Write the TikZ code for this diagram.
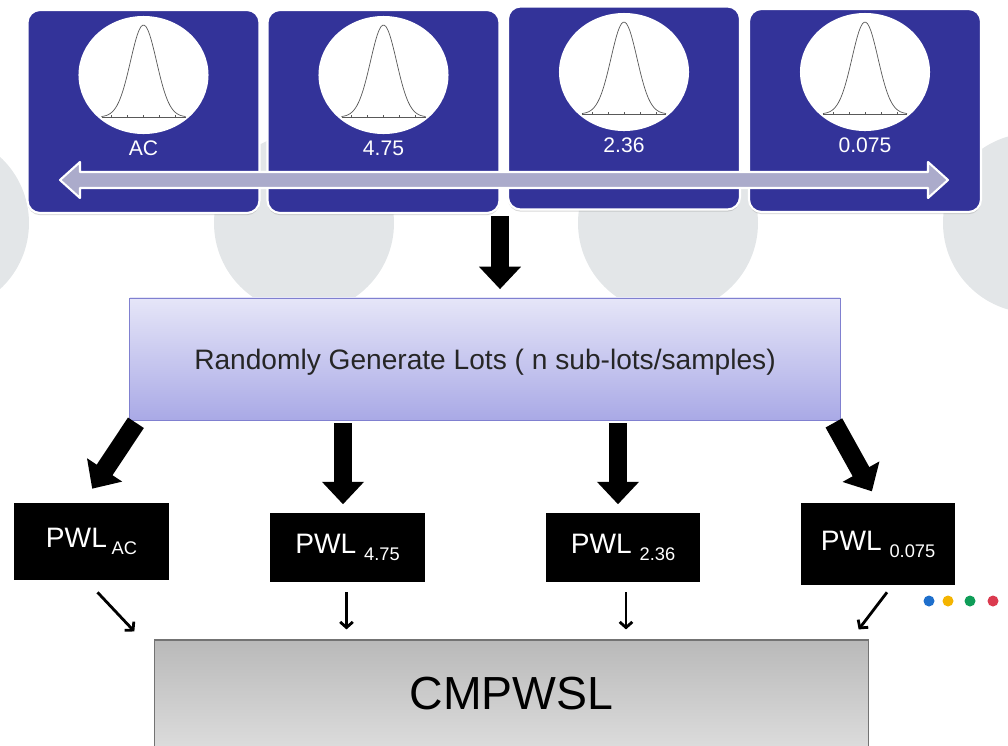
\documentclass[tikz,border=0pt]{standalone}
\usepackage{fontspec}
\setmainfont{Liberation Sans}
\usetikzlibrary{arrows.meta,calc,shapes.geometric,shadows}
\definecolor{lotblue}{HTML}{333399}
\definecolor{discgray}{HTML}{E3E6E8}
\definecolor{rangecol}{HTML}{ABABCB}
\definecolor{lotstop}{HTML}{E6E6F8}
\definecolor{lotsbot}{HTML}{A9A9E6}
\definecolor{lotsedge}{HTML}{8080D0}
\definecolor{cmptop}{HTML}{B9B9B9}
\definecolor{cmpbot}{HTML}{DCDCDC}
\definecolor{dotblue}{HTML}{1E6FCC}
\definecolor{dotyellow}{HTML}{F4B400}
\definecolor{dotgreen}{HTML}{0F9D58}
\definecolor{dotred}{HTML}{DB3A4F}
\colorlet{bellcol}{black!65}
\tikzstyle{lotbox}=[draw=white,line width=1.5pt,fill=lotblue,rounded corners=9pt,
  minimum width=5.8cm,minimum height=5.075cm,
  drop shadow={shadow xshift=0pt,shadow yshift=-1.5pt,opacity=0.3}]
\tikzstyle{bellbg}=[ellipse,fill=white,minimum width=3.25cm,minimum height=2.95cm,inner sep=0pt]
\tikzstyle{bellline}=[bellcol,line width=0.5pt]
\tikzstyle{lotlabel}=[white,font=\fontsize{15}{18}\selectfont]
\tikzstyle{blockarr}=[line width=13.5pt,-{Triangle[width=29pt,length=16pt]},
  shorten <=2pt,shorten >=6pt]
\tikzstyle{thinarr}=[line width=2pt,-{Straight Barb[length=4pt,width=9pt]}]
\tikzstyle{pwlbox}=[fill=black,text=white,font=\fontsize{20}{24}\selectfont,
  minimum width=3.85cm]
\newcommand{\pwlsub}[1]{\raisebox{-5pt}{\fontsize{13}{15}\selectfont #1}}

\begin{document}
\begin{tikzpicture}[x=0.025cm,y=-0.025cm]
  \useasboundingbox (0,0) rectangle (1008,745);
  \clip (0,0) rectangle (1008,745);
  % Background discs
  \foreach \cx in {-61,304,668,1033}
    \fill[discgray] (\cx,223) circle[radius=90];
  % Size classes
  \foreach \nm/\cx/\cy/\ey/\lbl in {ac/143.5/111.5/75/AC,475/383.5/111.5/75/4.75,
      236/624/108/72/2.36,0075/865/110.5/72/0.075} {
    \node[lotbox] (lot\nm) at (\cx,\cy) {};
    \node[bellbg] (bell\nm) at (\cx,\ey) {};
    \draw[bellline] plot[domain=-42:42,samples=50,smooth]
      ({\cx+\x},{\ey+42-92*exp(-(\x*\x)/338)});
    \draw[bellline] ($(bell\nm.center)+(-42,42)$) -- ($(bell\nm.center)+(42,42)$);
    \foreach \t in {-32,-16,...,32}
      \draw[bellline] ($(bell\nm.center)+(\t,42)$) -- ++(0,-2.5);
    \node[lotlabel] at (\cx,\ey+73) {\lbl};
  }
  % Range arrow
  \draw[white,line width=1.5pt,fill=rangecol,line join=round]
    (60,180) -- (80,162) -- (80,172) -- (928,172) -- (928,162) -- (948,180)
    -- (928,198) -- (928,188) -- (80,188) -- (80,198) -- cycle;
  \coordinate (join) at (500,213);
  % Lot generation
  \node[draw=lotsedge,line width=0.6pt,top color=lotstop,bottom color=lotsbot,
    minimum width=17.75cm,minimum height=3.05cm,text=black!85,
    font=\fontsize{20}{24}\selectfont,
    drop shadow={shadow xshift=0pt,shadow yshift=-1pt,opacity=0.25}]
    (lots) at (485,359)
    {\raisebox{-2.5pt}[\height][\depth]{Randomly Generate Lots ( n sub-lots/samples)}};
  \draw[blockarr] (join) -- (join |- lots.north);
  % Partial weights
  \node[pwlbox,minimum height=1.925cm] (pwlac) at (91.5,541.5) {PWL\,\pwlsub{AC}};
  \node[pwlbox,minimum height=1.725cm] (pwl475) at (347.5,547.5) {PWL \pwlsub{4.75}};
  \node[pwlbox,minimum height=1.725cm] (pwl236) at (623,547.5) {PWL \pwlsub{2.36}};
  \node[pwlbox,minimum height=2.05cm] (pwl0075) at (878,544) {PWL \pwlsub{0.075}};
  \draw[blockarr] ($(lots.south west)+(8,0)$) -- ($(pwlac.north)+(-4,-7)$);
  \draw[blockarr] (lots.south -| 343,0) -- (pwl475.north -| 343,0);
  \draw[blockarr] (lots.south -| 618,0) -- (pwl236.north -| 618,0);
  \draw[blockarr] ($(lots.south east)+(-8,0)$) -- ($(pwl0075.north)+(-2,-4)$);
  % Result
  \node[draw=black!55,line width=0.8pt,top color=cmptop,bottom color=cmpbot,
    minimum width=17.825cm,minimum height=2.7cm,
    font=\fontsize{33}{40}\selectfont] (cmp) at (511.5,694) {CMPWSL};
  \draw[thinarr] ($(pwlac.south)+(6,12)$) -- ($(cmp.north west)+(-20,-8)$);
  \draw[thinarr] ($(pwl475.south)+(-1,10)$) -- ($(pwl475.south |- cmp.north)+(-1,-10)$);
  \draw[thinarr] ($(pwl236.south)+(3,10)$) -- ($(pwl236.south |- cmp.north)+(3,-10)$);
  \draw[thinarr] ($(pwl0075.south)+(9,7)$) -- ($(cmp.north east)+(-10,-10)$);
  % Dots
  \fill[dotblue] (929,601) circle[radius=5.5];
  \fill[dotyellow] (948,601) circle[radius=5.5];
  \fill[dotgreen] (970,601) circle[radius=5.5];
  \fill[dotred] (993,601) circle[radius=5.5];
\end{tikzpicture}
\end{document}
